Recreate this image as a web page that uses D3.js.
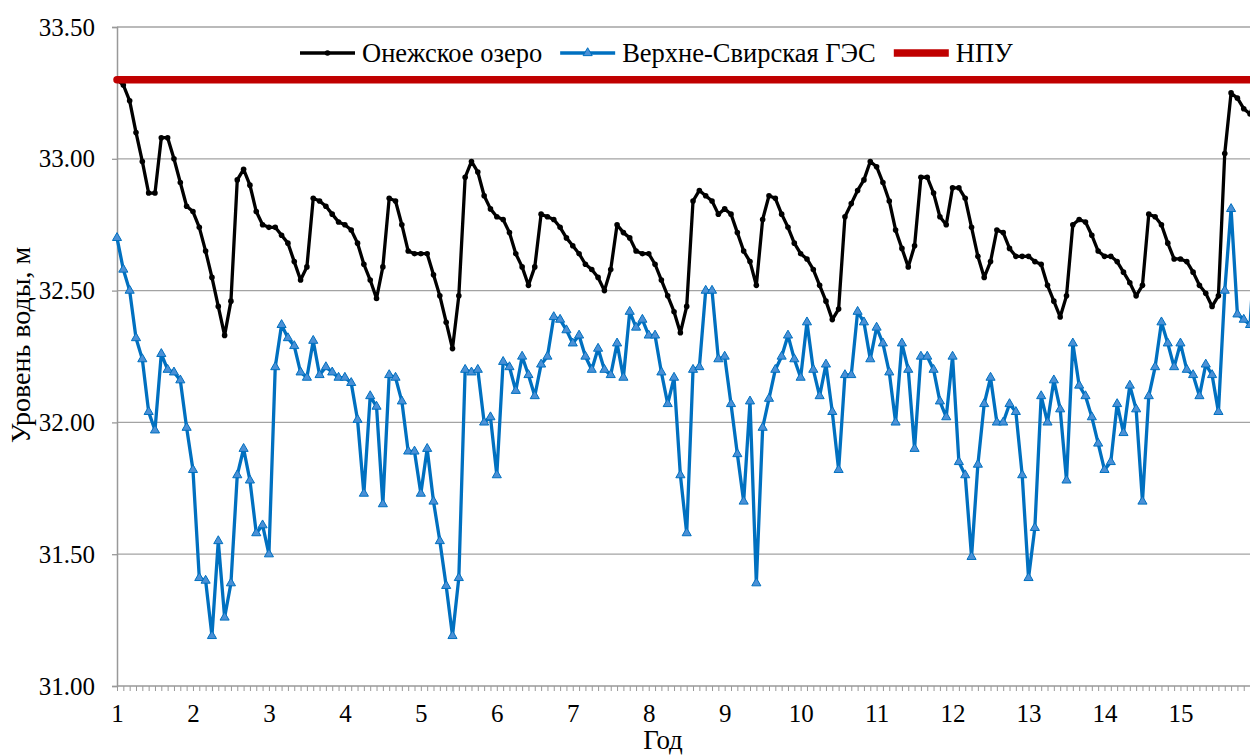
<!DOCTYPE html>
<html>
<head>
<meta charset="utf-8">
<script src="https://cdn.jsdelivr.net/npm/d3@7/dist/d3.min.js"></script>
<style>
  body { margin: 0; background: #fff; }
</style>
</head>
<body>
<div id="chart"></div>
<script>
// year labels shown under the x axis, one every 12 months
let yearLabels = [1, 2, 3, 4, 5, 6, 7, 8, 9, 10, 11, 12, 13, 14, 15];

// Онежское озеро, monthly levels
let onega = [
  33.30, 33.28, 33.22, 33.10, 32.99, 32.87, 32.87, 33.08, 33.08, 33.00, 32.91, 32.82,
  32.80, 32.74, 32.65, 32.55, 32.44, 32.33, 32.46, 32.92, 32.96, 32.90, 32.80, 32.75,
  32.74, 32.74, 32.71, 32.68, 32.61, 32.54, 32.59, 32.85, 32.84, 32.82, 32.79, 32.76,
  32.75, 32.73, 32.68, 32.60, 32.54, 32.47, 32.59, 32.85, 32.84, 32.75, 32.65, 32.64,
  32.64, 32.64, 32.56, 32.48, 32.38, 32.28, 32.48, 32.93, 32.99, 32.95, 32.86, 32.81,
  32.78, 32.77, 32.72, 32.64, 32.59, 32.52, 32.59, 32.79, 32.78, 32.77, 32.74, 32.70,
  32.67, 32.64, 32.60, 32.58, 32.55, 32.50, 32.58, 32.75, 32.72, 32.70, 32.65, 32.64,
  32.64, 32.60, 32.54, 32.48, 32.42, 32.34, 32.44, 32.84, 32.88, 32.86, 32.84, 32.79,
  32.81, 32.79, 32.72, 32.65, 32.61, 32.52, 32.77, 32.86, 32.85, 32.79, 32.74, 32.68,
  32.64, 32.62, 32.58, 32.52, 32.46, 32.39, 32.43, 32.78, 32.83, 32.88, 32.92, 32.99,
  32.97, 32.91, 32.84, 32.73, 32.66, 32.59, 32.67, 32.93, 32.93, 32.87, 32.78, 32.75,
  32.89, 32.89, 32.85, 32.74, 32.63, 32.55, 32.61, 32.73, 32.72, 32.66, 32.63, 32.63,
  32.63, 32.61, 32.60, 32.52, 32.46, 32.40, 32.48, 32.75, 32.77, 32.76, 32.71, 32.65,
  32.63, 32.63, 32.61, 32.57, 32.53, 32.48, 32.52, 32.79, 32.78, 32.75, 32.68, 32.62,
  32.62, 32.61, 32.57, 32.52, 32.49, 32.44, 32.48, 33.02, 33.25, 33.23, 33.19, 33.17,
  33.24
];

// Верхне-Свирская ГЭС, monthly levels
let svir = [
  32.70, 32.58, 32.50, 32.32, 32.24, 32.04, 31.97, 32.26, 32.20, 32.19, 32.16, 31.98,
  31.82, 31.41, 31.40, 31.19, 31.55, 31.26, 31.39, 31.80, 31.90, 31.78, 31.58, 31.61,
  31.50, 32.21, 32.37, 32.32, 32.29, 32.19, 32.17, 32.31, 32.18, 32.21, 32.19, 32.17,
  32.17, 32.15, 32.01, 31.73, 32.10, 32.06, 31.69, 32.18, 32.17, 32.08, 31.89, 31.89,
  31.73, 31.90, 31.70, 31.55, 31.38, 31.19, 31.41, 32.20, 32.19, 32.20, 32.00, 32.02,
  31.80, 32.23, 32.21, 32.12, 32.25, 32.18, 32.10, 32.22, 32.25, 32.40, 32.39, 32.35,
  32.30, 32.33, 32.25, 32.20, 32.28, 32.20, 32.18, 32.30, 32.17, 32.42, 32.36, 32.39,
  32.33, 32.33, 32.19, 32.07, 32.17, 31.80, 31.58, 32.20, 32.21, 32.50, 32.50, 32.24,
  32.25, 32.07, 31.88, 31.70, 32.08, 31.39, 31.98, 32.09, 32.20, 32.25, 32.33, 32.24,
  32.17, 32.38, 32.20, 32.10, 32.22, 32.04, 31.82, 32.18, 32.18, 32.42, 32.38, 32.24,
  32.36, 32.30, 32.19, 32.00, 32.30, 32.20, 31.90, 32.25, 32.25, 32.20, 32.08, 32.02,
  32.25, 31.85, 31.80, 31.49, 31.84, 32.07, 32.17, 32.00, 32.00, 32.07, 32.04, 31.80,
  31.41, 31.60, 32.10, 32.00, 32.16, 32.05, 31.78, 32.30, 32.14, 32.10, 32.02, 31.92,
  31.82, 31.85, 32.07, 31.96, 32.14, 32.05, 31.70, 32.10, 32.21, 32.38, 32.30, 32.21,
  32.30, 32.20, 32.18, 32.10, 32.22, 32.18, 32.04, 32.50, 32.81, 32.41, 32.39, 32.37,
  32.75
];

// НПУ (normal headwater level)
let npuLevel = 33.30;

let yTicks = [31.00, 31.50, 32.00, 32.50, 33.00, 33.50];
let seriesNames = ['Онежское озеро', 'Верхне-Свирская ГЭС', 'НПУ'];

let margin = ({top: 27, right: 0, bottom: 69, left: 117});
let width = 1250;
let height = 755;
let monthStep = 6.33;
let serif = '"Liberation Serif", "Times New Roman", "DejaVu Serif", serif';

let svg = d3.select('#chart').append('svg')
    .attr('width', width)
    .attr('height', height);

let months = d3.range(onega.length);

let x = d3.scaleLinear()
    .domain([0, months.length - 1])
    .range([margin.left, margin.left + (months.length - 1) * monthStep]);

let y = d3.scaleLinear()
    .domain([31, 33.5])
    .range([height - margin.bottom, margin.top]);

// gridlines
svg.append('g')
    .selectAll('line')
    .data(yTicks.slice(1))
    .enter().append('line')
    .attr('x1', margin.left)
    .attr('x2', width)
    .attr('y1', d => y(d))
    .attr('y2', d => y(d))
    .attr('stroke', '#a3a3a3')
    .attr('stroke-width', 1.3);

// y axis
let yAxis = svg.append('g')
    .attr('transform', `translate(${margin.left}, 0)`)
    .call(d3.axisLeft(y)
        .tickValues(yTicks)
        .tickFormat(d3.format('.2f'))
        .tickSize(5)
        .tickPadding(17));
yAxis.attr('font-family', null).attr('font-size', null);
yAxis.select('.domain').attr('stroke', '#999').attr('stroke-width', 1.5);
yAxis.selectAll('.tick line').attr('stroke', '#999').attr('stroke-width', 1.3);
yAxis.selectAll('.tick text')
    .style('font-family', serif)
    .style('font-size', '25px')
    .attr('fill', '#000');

// x axis: a tick every month, a label every year
let xAxis = svg.append('g')
    .attr('transform', `translate(0, ${height - margin.bottom})`)
    .call(d3.axisBottom(x)
        .tickValues(months)
        .tickFormat(i => (i % 12 === 0 && yearLabels[i / 12] !== undefined) ? yearLabels[i / 12] : '')
        .tickSize(5)
        .tickPadding(13));
xAxis.attr('font-family', null).attr('font-size', null);
xAxis.select('.domain').attr('stroke', '#999').attr('stroke-width', 1.5)
    .attr('d', `M${margin.left},0H${width}`);
xAxis.selectAll('.tick line').attr('stroke', '#999').attr('stroke-width', 1);
xAxis.selectAll('.tick text')
    .style('font-family', serif)
    .style('font-size', '25px')
    .attr('fill', '#000');

// axis titles
svg.append('text')
    .attr('x', 663)
    .attr('y', 749)
    .attr('text-anchor', 'middle')
    .style('font-family', serif)
    .style('font-size', '27px')
    .text('Год');

svg.append('text')
    .attr('transform', `translate(30, 345) rotate(-90)`)
    .attr('text-anchor', 'middle')
    .style('font-family', serif)
    .style('font-size', '28px')
    .text('Уровень воды, м');

let line = d3.line()
    .x((d, i) => x(i))
    .y(d => y(d));

// Онежское озеро
svg.append('path')
    .datum(onega)
    .attr('fill', 'none')
    .attr('stroke', '#000')
    .attr('stroke-width', 3.3)
    .attr('stroke-linejoin', 'round')
    .attr('d', line);

svg.append('g')
    .selectAll('circle')
    .data(onega)
    .enter().append('circle')
    .attr('cx', (d, i) => x(i))
    .attr('cy', d => y(d))
    .attr('r', 2.8)
    .attr('fill', '#000');

// Верхне-Свирская ГЭС
svg.append('path')
    .datum(svir)
    .attr('fill', 'none')
    .attr('stroke', '#0070c0')
    .attr('stroke-width', 3.3)
    .attr('stroke-linejoin', 'round')
    .attr('d', line);

let tri = d3.symbol().type(d3.symbolTriangle).size(36);

svg.append('g')
    .selectAll('path')
    .data(svir)
    .enter().append('path')
    .attr('d', tri)
    .attr('transform', (d, i) => `translate(${x(i)}, ${y(d)})`)
    .attr('fill', '#4a90d6')
    .attr('stroke', '#0070c0')
    .attr('stroke-width', 1);

// НПУ
svg.append('line')
    .attr('x1', x(0))
    .attr('x2', x(months.length - 1))
    .attr('y1', y(npuLevel))
    .attr('y2', y(npuLevel))
    .attr('stroke', '#c00000')
    .attr('stroke-width', 7.5)
    .attr('stroke-linecap', 'round');

// legend
let legendY = 53;
let legendX = 300;
let sampleLen = 55;
seriesNames.forEach((name, k) => {
    let g = svg.append('g').attr('transform', `translate(${legendX}, ${legendY})`);
    let color = ['#000', '#0070c0', '#c00000'][k];
    g.append('line')
        .attr('x1', 0).attr('x2', sampleLen)
        .attr('y1', 0).attr('y2', 0)
        .attr('stroke', color)
        .attr('stroke-width', k === 2 ? 7.5 : 3.3);
    if (k === 0) {
        g.append('circle').attr('cx', sampleLen / 2).attr('cy', 0).attr('r', 2.8).attr('fill', '#000');
    }
    if (k === 1) {
        g.append('path').attr('d', tri)
            .attr('transform', `translate(${sampleLen / 2}, 0)`)
            .attr('fill', '#4a90d6').attr('stroke', '#0070c0').attr('stroke-width', 1);
    }
    let t = g.append('text')
        .attr('x', sampleLen + 7)
        .attr('y', 9)
        .style('font-family', serif)
        .style('font-size', '26.5px')
        .text(name);
    legendX += sampleLen + 7 + t.node().getComputedTextLength() + 18;
});
</script>
</body>
</html>
